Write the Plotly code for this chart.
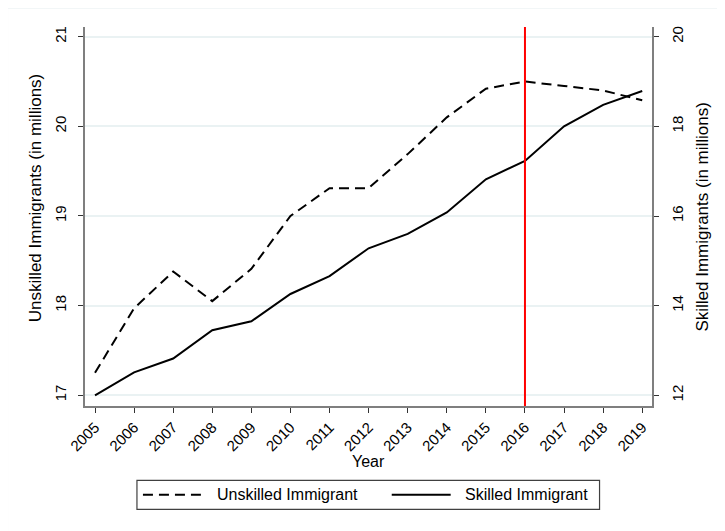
import plotly.graph_objects as go

# ---------------- data ----------------
years = list(range(2005, 2020))
unskilled = [17.25, 17.97, 18.38, 18.05, 18.41, 19.00, 19.31, 19.31, 19.69,
             20.10, 20.42, 20.50, 20.45, 20.40, 20.29]
skilled = [12.00, 12.51, 12.82, 13.45, 13.65, 14.26, 14.66, 15.28, 15.60,
           16.08, 16.82, 17.23, 18.00, 18.48, 18.79]
left_ticks = [17, 18, 19, 20, 21]
right_ticks = [12, 14, 16, 18, 20]
event_year = 2016
series_names = ["Unskilled Immigrant", "Skilled Immigrant"]

# ---------------- layout geometry (page pixels) ----------------
OFF = 8  # page body margin
W, H = 725 - OFF, 531 - OFF
L, R, T, B = 85, 652.5, 27, 405.7  # plot area in page pixels


def px(x):
    return (x - L) / (R - L)


def py(y):
    return (B - y) / (B - T)


FONT = "Liberation Sans, Arial, sans-serif"
DASH = "10px,6px"

fig = go.Figure()
fig.add_trace(go.Scatter(x=years, y=unskilled, mode="lines", name=series_names[0],
                         line=dict(color="black", width=2, dash=DASH),
                         yaxis="y", showlegend=False))
fig.add_trace(go.Scatter(x=years, y=skilled, mode="lines", name=series_names[1],
                         line=dict(color="black", width=2),
                         yaxis="y2", showlegend=False))

shapes = []
# outer graph region frame
shapes.append(dict(type="rect", xref="paper", yref="paper",
                   x0=px(7), x1=px(745), y0=py(550), y1=py(7.5),
                   line=dict(color="#E6EDF0", width=2), layer="below"))
# vertical event line
shapes.append(dict(type="line", xref="x", yref="paper", x0=event_year, x1=event_year,
                   y0=0, y1=1, line=dict(color="red", width=2), layer="above"))
# legend box
shapes.append(dict(type="rect", xref="paper", yref="paper",
                   x0=px(137), x1=px(600), y0=py(509), y1=py(480),
                   line=dict(color="#404040", width=1.2)))
shapes.append(dict(type="line", xref="paper", yref="paper",
                   x0=px(143), x1=px(201), y0=py(494.5), y1=py(494.5),
                   line=dict(color="black", width=2, dash=DASH)))
shapes.append(dict(type="line", xref="paper", yref="paper",
                   x0=px(392), x1=px(451), y0=py(494.5), y1=py(494.5),
                   line=dict(color="black", width=2)))

annotations = [
    dict(text=series_names[0], xref="paper", yref="paper", x=px(215), y=py(494.5),
         xanchor="left", yanchor="middle", showarrow=False,
         font=dict(family=FONT, size=16, color="black")),
    dict(text=series_names[1], xref="paper", yref="paper", x=px(463), y=py(494.5),
         xanchor="left", yanchor="middle", showarrow=False,
         font=dict(family=FONT, size=16, color="black")),
    dict(text="Year", xref="paper", yref="paper", x=px(368.7), y=py(461),
         xanchor="center", yanchor="middle", showarrow=False,
         font=dict(family=FONT, size=16, color="black")),
    dict(text="Unskilled Immigrants (in millions)", xref="paper", yref="paper",
         x=px(35), y=py(198), xanchor="center", yanchor="middle", textangle=-90,
         showarrow=False, font=dict(family=FONT, size=17, color="black")),
    dict(text="Skilled Immigrants (in millions)", xref="paper", yref="paper",
         x=px(703), y=py(216), xanchor="center", yanchor="middle", textangle=-90,
         showarrow=False, font=dict(family=FONT, size=17, color="black")),
]

axis_common = dict(showline=True, linecolor="#7f7f7f", linewidth=1.5,
                   ticks="outside", ticklen=5, tickwidth=1, tickcolor="#333333",
                   zeroline=False)

fig.update_layout(
    width=W, height=H, autosize=False,
    margin=dict(l=L - OFF, r=W - (R - OFF), t=T - OFF, b=H - (B - OFF), pad=0),
    paper_bgcolor="white", plot_bgcolor="white",
    shapes=shapes, annotations=annotations,
    xaxis=dict(range=[2004.744, 2019.25], tickmode="array", tickvals=years,
               ticktext=[str(y) for y in years], tickangle=-45, showgrid=False,
               tickfont=dict(family=FONT, size=15, color="black"),
               **axis_common),
    yaxis=dict(range=[16.88, 21.108], tickmode="array", tickvals=left_ticks,
               tickangle=-90, showgrid=True, gridcolor="#EAF2F3", gridwidth=1.5,
               tickfont=dict(family=FONT, size=15, color="black"),
               ticklabelstandoff=6, **axis_common),
    yaxis2=dict(range=[11.761, 20.217], tickmode="array", tickvals=right_ticks,
                overlaying="y", side="right", tickangle=-90, showgrid=False,
                tickfont=dict(family=FONT, size=15, color="black"),
                ticklabelstandoff=6, **axis_common),
)

fig.write_html("out.html")
